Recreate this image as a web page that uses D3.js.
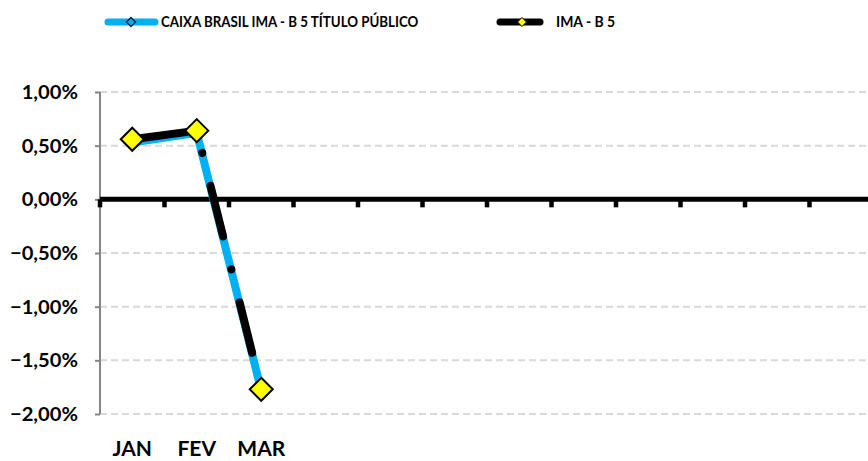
<!DOCTYPE html>
<html><head><meta charset="utf-8">
<script src="https://cdn.jsdelivr.net/npm/d3@7"></script>
<style>body{margin:0;background:#fff}svg{display:block}</style>
</head><body><svg id="c" width="868" height="461"></svg>
<script>
const months = ["JAN","FEV","MAR","ABR","MAI","JUN","JUL","AGO","SET","OUT","NOV","DEZ"];
const monthLabels = ["JAN","FEV","MAR","","","","","","","","",""];
const caixaValues = [0.53, 0.62, -1.78];
const imaValues = [0.56, 0.64, -1.77];
const yTicks = [1, 0.5, 0, -0.5, -1, -1.5, -2];
const seriesNames = ["CAIXA BRASIL IMA - B 5 TÍTULO PÚBLICO", "IMA - B 5"];

const svg = d3.select("#c");
const font = "Lato, 'Open Sans', sans-serif";
const x = d3.scaleBand().domain(months).range([100, 874]);
const y = d3.scaleLinear().domain([-2, 1]).range([414, 92]);
const fmt = v => d3.format(".2f")(v).replace(".", ",") + "%";

// gridlines
svg.append("g").selectAll("line").data(yTicks.filter(t => t !== 0)).join("line")
  .attr("x1", 100).attr("x2", 868).attr("y1", d => y(d)).attr("y2", d => y(d))
  .attr("stroke", "#d9d9d9").attr("stroke-width", 2).attr("stroke-dasharray", "7,4");

// y axis
const ya = svg.append("g").attr("transform", "translate(100,0)")
  .call(d3.axisLeft(y).tickValues(yTicks).tickSize(5).tickFormat(fmt));
ya.select(".domain").attr("stroke", "#868686").attr("stroke-width", 2).attr("d", `M0,${y(1)}V${y(-2)}`);
ya.selectAll(".tick line").attr("stroke", "#868686").attr("stroke-width", 2);
ya.selectAll(".tick text").attr("x", 0).attr("dy", 0)
  .attr("transform", "translate(-22,6.5) scale(1.12,1)")
  .attr("font-family", font).attr("font-weight", "bold")
  .attr("font-size", 18).attr("fill", "#000");

// x axis at zero
const xa = svg.append("g").attr("transform", `translate(0,${y(0)})`)
  .call(d3.axisBottom(x).tickSize(0).tickFormat((d, i) => monthLabels[i]));
xa.select(".domain").remove();
xa.append("line").attr("x1", 100).attr("x2", 868).attr("stroke", "#000").attr("stroke-width", 5);
xa.selectAll(".bt").data(months).join("line").attr("class", "bt")
  .attr("x1", d => x(d)).attr("x2", d => x(d)).attr("y1", 0).attr("y2", 8)
  .attr("stroke", "#000").attr("stroke-width", 4.5);
xa.selectAll(".tick text").attr("y", 0).attr("dy", 0)
  .attr("transform", `translate(0,${456 - y(0)})`)
  .attr("font-family", font).attr("font-weight", "bold").attr("font-size", 21).attr("fill", "#000");

const cx = i => x(months[i]) + x.bandwidth() / 2;
const line = d3.line().x((d, i) => cx(i)).y(d => y(d));
const diamond = (s) => `M0,${-s}L${s},0L0,${s}L${-s},0Z`;

// caixa series
svg.append("path").datum(caixaValues).attr("d", line).attr("fill", "none")
  .attr("stroke", "#00B0F0").attr("stroke-width", 8).attr("stroke-linejoin", "round");
svg.append("g").selectAll("path").data(caixaValues).join("path")
  .attr("transform", (d, i) => `translate(${cx(i)},${y(d)})`).attr("d", diamond(4))
  .attr("fill", "#00B0F0").attr("stroke", "#10253F").attr("stroke-width", 1.5);

// ima series
svg.append("path").datum(imaValues).attr("d", line).attr("fill", "none")
  .attr("stroke", "#000").attr("stroke-width", 8).attr("stroke-linejoin", "round")
  .attr("stroke-linecap", "round").attr("stroke-dasharray", "52,34,0.01,34").attr("stroke-dashoffset", -2);
svg.append("g").selectAll("path").data(imaValues).join("path")
  .attr("transform", (d, i) => `translate(${cx(i)},${y(d)})`).attr("d", diamond(11.5))
  .attr("fill", "#FFFF00").attr("stroke", "#000").attr("stroke-width", 2);

// legend
const lg = svg.append("g");
lg.append("line").attr("x1", 108).attr("x2", 155).attr("y1", 22).attr("y2", 22)
  .attr("stroke", "#00B0F0").attr("stroke-width", 7).attr("stroke-linecap", "round");
lg.append("path").attr("transform", "translate(131,22)").attr("d", diamond(4.5))
  .attr("fill", "#00B0F0").attr("stroke", "#10253F").attr("stroke-width", 1.5);
lg.append("text").attr("transform", "translate(161,27) scale(0.86,1)").text(seriesNames[0])
  .attr("font-family", font).attr("font-weight", "bold").attr("font-size", 15.5).attr("fill", "#000");
lg.append("line").attr("x1", 500).attr("x2", 540).attr("y1", 22).attr("y2", 22)
  .attr("stroke", "#000").attr("stroke-width", 7).attr("stroke-linecap", "round");
lg.append("path").attr("transform", "translate(522,22)").attr("d", diamond(4.5))
  .attr("fill", "#FFFF00").attr("stroke", "#000").attr("stroke-width", 1);
lg.append("text").attr("transform", "translate(556,27) scale(0.9,1)").text(seriesNames[1])
  .attr("font-family", font).attr("font-weight", "bold").attr("font-size", 15.5).attr("fill", "#000");
</script></body></html>
